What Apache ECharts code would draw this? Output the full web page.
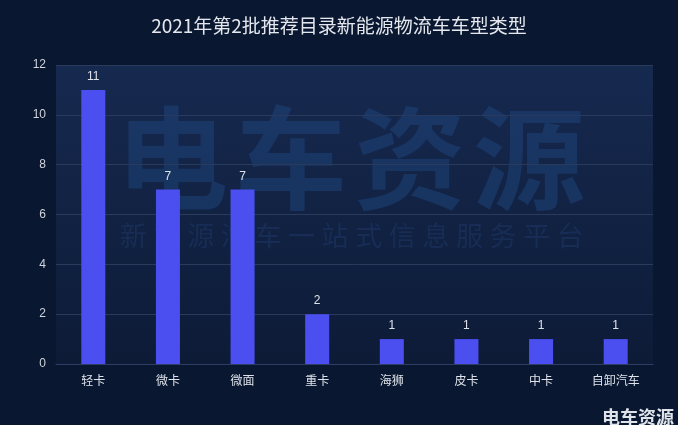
<!DOCTYPE html>
<html><head><meta charset="utf-8">
<script src="https://cdn.jsdelivr.net/npm/echarts@6/dist/echarts.min.js"></script>
<style>html,body{margin:0;padding:0;background:#0a1730;}#c{width:678px;height:434px;}</style>
</head><body><div id="c"></div>
<script>
const titleText = '2021年第2批推荐目录新能源物流车车型类型';
const categories = ['轻卡','微卡','微面','重卡','海狮','皮卡','中卡','自卸汽车'];
const values = [11,7,7,2,1,1,1,1];
const yTicks = [0,2,4,6,8,10,12];
const wmMain = '电车资源';
const wmSub = '新能源汽车一站式信息服务平台';

const graphics = [];
Array.from(wmMain).forEach((ch, i) => graphics.push({ type:'text', left: 116 + i*119, top: 102, z: 0, silent:true,
  style:{ text: ch, fontSize: 112, fontWeight:'bold', fontFamily:'Noto Sans CJK SC', fill:'rgba(30,70,125,0.5)' } }));
Array.from(wmSub).forEach((ch, i) => graphics.push({ type:'text', left: 120 + i*33.6, top: 222, z: 0, silent:true,
  style:{ text: ch, fontSize: 27, fontFamily:'Noto Sans CJK SC', fill:'rgba(30,60,110,0.45)' } }));
graphics.push({ type:'text', right: 4, top: 408, z: 10, silent:true,
  style:{ text:'电车资源', fontSize: 18, fontWeight:'bold', fontFamily:'Noto Sans CJK SC', fill:'#dfe3ea' } });
graphics.push({ type:'rect', left: 0, top: 425, z: 20, silent:true,
  shape:{ width: 678, height: 9 }, style:{ fill:'#ffffff' } });

const chart = echarts.init(document.getElementById('c'));
chart.setOption({
  backgroundColor: '#0a1730',
  title: { text: titleText, left: 'center', top: 11,
    textStyle: { color: '#e4e8ee', fontSize: 19, fontWeight: 'normal', fontFamily: 'Noto Sans CJK SC' } },
  grid: { left: 56, right: 25, top: 65, bottom: 70, show: true, borderWidth: 0,
    backgroundColor: new echarts.graphic.LinearGradient(0,0,0,1,[
      {offset:0,color:'#16294f'},{offset:1,color:'#0d1b37'}]) },
  graphic: graphics,
  xAxis: { type:'category', data: categories,
    axisLine:{ lineStyle:{ color:'#2c3e64' } }, axisTick:{ show:false },
    axisLabel:{ color:'#dde2ea', fontSize:12, margin: 10, fontFamily:'Noto Sans CJK SC' } },
  yAxis: { type:'value', min: yTicks[0], max: yTicks[yTicks.length-1], interval: 2,
    axisLine:{ show:false }, axisTick:{ show:false },
    splitLine:{ lineStyle:{ color:'#2a3a5c' } },
    axisLabel:{ color:'#d0d5de', fontSize:12, margin: 10 } },
  series: [{ type:'bar', data: values, barWidth: 24,
    itemStyle:{ color:'#4c4ff0' },
    label:{ show:true, position:'top', color:'#dde2ea', fontSize:12, distance: 7 } }]
});
</script></body></html>
